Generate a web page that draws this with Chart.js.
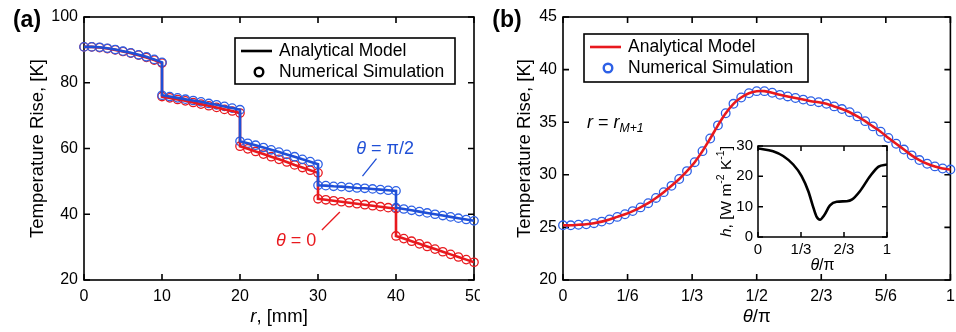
<!DOCTYPE html>
<html>
<head>
<meta charset="utf-8">
<script src="https://cdn.jsdelivr.net/npm/chart.js@4.4.1/dist/chart.umd.min.js"></script>
<style>
  html, body { margin: 0; padding: 0; background: #fff; }
  #wrap { position: relative; width: 956px; height: 332px; }
  canvas { position: absolute; }
</style>
</head>
<body>
<div id="wrap">
  <canvas id="left" width="480" height="332" style="left:0;top:0;width:480px;height:332px"></canvas>
  <canvas id="right" width="476" height="332" style="left:480px;top:0;width:476px;height:332px"></canvas>
  <canvas id="inset" width="200" height="150" style="left:700px;top:128px;width:200px;height:150px"></canvas>
</div>
<script>
// ---- (a) temperature along r, one array per 10 mm ring, sampled every 1 mm
const ringStart = [0, 10, 20, 30, 40];
const ringOffset = [0, 1, 2, 3, 4, 5, 6, 7, 8, 9, 10];
const tempHalfPi = [
  [90.9, 90.9, 90.8, 90.5, 90.1, 89.6, 89.1, 88.5, 87.9, 87.1, 86.2],
  [76.2, 75.8, 75.4, 75.0, 74.6, 74.2, 73.7, 73.3, 72.8, 72.3, 71.8],
  [62.2, 61.6, 61.0, 60.3, 59.6, 58.9, 58.2, 57.5, 56.7, 56.0, 55.2],
  [48.8, 48.7, 48.5, 48.4, 48.2, 48.0, 47.9, 47.7, 47.5, 47.3, 47.1],
  [42.0, 41.6, 41.2, 40.8, 40.4, 40.0, 39.6, 39.2, 38.8, 38.4, 38.0]
];
const tempZero = [
  [90.9, 90.9, 90.7, 90.4, 90.0, 89.5, 89.0, 88.4, 87.7, 86.9, 86.0],
  [75.8, 75.4, 74.9, 74.5, 74.0, 73.5, 73.0, 72.5, 71.9, 71.4, 70.8],
  [60.7, 59.9, 59.1, 58.3, 57.5, 56.7, 55.9, 55.0, 54.2, 53.4, 52.6],
  [44.7, 44.4, 44.1, 43.8, 43.5, 43.2, 42.9, 42.6, 42.3, 42.0, 41.7],
  [33.4, 32.6, 31.8, 31.0, 30.2, 29.4, 28.6, 27.8, 27.0, 26.2, 25.4]
];

// ---- (b) temperature along theta at r = r_M+1, 51 samples from 0 to pi
const tempEdge = [
  25.2, 25.2, 25.25, 25.3, 25.4, 25.55, 25.75, 26.0, 26.25, 26.55,
  26.9, 27.3, 27.8, 28.35, 28.95, 29.6, 30.35, 31.2, 32.25, 33.45,
  34.7, 35.85, 36.75, 37.35, 37.75, 37.95, 37.95, 37.8, 37.6, 37.45,
  37.3, 37.15, 37.0, 36.9, 36.75, 36.5, 36.25, 35.95, 35.55, 35.1,
  34.6, 34.1, 33.5, 32.95, 32.4, 31.85, 31.4, 31.05, 30.8, 30.6, 30.5
];
const thetaTickValues = [0, 1 / 6, 1 / 3, 1 / 2, 2 / 3, 5 / 6, 1];
const thetaTickLabels = ['0', '1/6', '1/3', '1/2', '2/3', '5/6', '1'];

// ---- inset: heat transfer coefficient h(theta)
const hTheta = [0, 0.117, 0.195, 0.273, 0.338, 0.39, 0.43, 0.455, 0.481, 0.512, 0.558, 0.61, 0.688, 0.727, 0.79, 0.87, 0.935, 1];
const hValue = [29.2, 28.3, 26.7, 23.9, 20.1, 15.1, 9.6, 6.6, 5.7, 7.1, 10.4, 11.6, 11.8, 12.3, 15.1, 20.1, 23.2, 23.9];
const insetTickValues = [0, 1 / 3, 2 / 3, 1];
const insetTickLabels = ['0', '1/3', '2/3', '1'];

const BLUE = '#1f4fd6';
const RED = '#e8191e';
const CIRC = '#2d60e6';
const FAM = '"Liberation Sans", Arial, Helvetica, sans-serif';

function fontOf(p, size) {
  const s = (p.sub || p.sup) ? size * 0.68 : size;
  return (p.i ? 'italic ' : '') + (p.b ? 'bold ' : '') + s + 'px ' + FAM;
}

// draws mixed italic / sub / sup text, centred on (x, y) unless align says otherwise
function drawRich(ctx, parts, x, y, size, color, align = 'center', angle = 0) {
  ctx.save();
  ctx.translate(x, y);
  ctx.rotate(angle);
  ctx.textBaseline = 'middle';
  ctx.textAlign = 'left';
  let w = 0;
  parts.forEach(p => { ctx.font = fontOf(p, size); w += ctx.measureText(p.t).width; });
  let cx = align === 'center' ? -w / 2 : (align === 'right' ? -w : 0);
  parts.forEach(p => {
    ctx.font = fontOf(p, size);
    ctx.fillStyle = p.c || color;
    const dy = p.sub ? size * 0.32 : (p.sup ? -size * 0.36 : 0);
    ctx.fillText(p.t, cx, dy);
    cx += ctx.measureText(p.t).width;
  });
  ctx.restore();
}

// box round the plot with inward ticks on all four sides
const framePlugin = {
  id: 'frame',
  beforeDatasetsDraw(chart, args, o) {
    const { ctx, chartArea: a, scales: { x, y } } = chart;
    ctx.save();
    ctx.strokeStyle = '#000';
    ctx.lineWidth = o.lw;
    ctx.beginPath();
    x.ticks.forEach(t => {
      const px = x.getPixelForValue(t.value);
      ctx.moveTo(px, a.bottom); ctx.lineTo(px, a.bottom - o.len);
      ctx.moveTo(px, a.top); ctx.lineTo(px, a.top + o.len);
    });
    y.ticks.forEach(t => {
      const py = y.getPixelForValue(t.value);
      ctx.moveTo(a.left, py); ctx.lineTo(a.left + o.len, py);
      ctx.moveTo(a.right, py); ctx.lineTo(a.right - o.len, py);
    });
    ctx.stroke();
    ctx.strokeRect(a.left, a.top, a.right - a.left, a.bottom - a.top);
    ctx.restore();
  }
};

function legendBox(ctx, x0, y0, w, h, lineColor, circColor, circWidth) {
  ctx.save();
  ctx.fillStyle = '#fff';
  ctx.fillRect(x0, y0, w, h);
  ctx.strokeStyle = '#000';
  ctx.lineWidth = 1.6;
  ctx.strokeRect(x0, y0, w, h);
  ctx.strokeStyle = lineColor;
  ctx.lineWidth = 2.6;
  ctx.beginPath();
  ctx.moveTo(x0 + 6, y0 + 13); ctx.lineTo(x0 + 37, y0 + 13);
  ctx.stroke();
  ctx.strokeStyle = circColor;
  ctx.lineWidth = circWidth;
  ctx.beginPath();
  ctx.arc(x0 + 24, y0 + 34, 4.3, 0, Math.PI * 2);
  ctx.stroke();
  ctx.restore();
  drawRich(ctx, [{ t: 'Analytical Model' }], x0 + 44, y0 + 13, 17.5, '#000', 'left');
  drawRich(ctx, [{ t: 'Numerical Simulation' }], x0 + 44, y0 + 34, 17.5, '#000', 'left');
}

function ringPoints(rings) {
  const pts = [];
  rings.forEach((vals, k) => vals.forEach((v, j) => pts.push({ x: ringStart[k] + ringOffset[j], y: v })));
  return pts;
}

function axisBase(min, max, step, padTicks, fontSize) {
  return {
    type: 'linear', min: min, max: max,
    grid: { display: false, drawTicks: false },
    border: { display: false },
    ticks: { stepSize: step, padding: padTicks, color: '#000', font: { family: FAM, size: fontSize } }
  };
}

Chart.defaults.animation = false;
Chart.defaults.events = [];

// ---------------- (a)
const leftDeco = {
  id: 'leftDeco',
  afterDraw(chart) {
    const { ctx, chartArea: a, scales: { x, y } } = chart;
    drawRich(ctx, [{ t: '(a)', b: true }], 27, 21, 23, '#000');
    drawRich(ctx, [{ t: 'Temperature Rise, [K]' }], 38, (a.top + a.bottom) / 2, 18.5, '#000', 'center', -Math.PI / 2);
    drawRich(ctx, [{ t: 'r', i: true }, { t: ', [mm]' }], (a.left + a.right) / 2, 317, 18.5, '#000');
    legendBox(ctx, 235, 38, 220, 46, '#000', '#000', 2.4);
    // curve labels with leader lines
    drawRich(ctx, [{ t: 'θ', i: true }, { t: ' = π/2' }], x.getPixelForValue(38.6), y.getPixelForValue(59.7), 18, BLUE);
    drawRich(ctx, [{ t: 'θ', i: true }, { t: ' = 0' }], x.getPixelForValue(27.2), y.getPixelForValue(31.8), 18, RED);
    ctx.save();
    ctx.lineWidth = 1.3;
    ctx.strokeStyle = BLUE;
    ctx.beginPath();
    ctx.moveTo(x.getPixelForValue(37.5), y.getPixelForValue(56.9));
    ctx.lineTo(x.getPixelForValue(35.7), y.getPixelForValue(51.6));
    ctx.stroke();
    ctx.strokeStyle = RED;
    ctx.beginPath();
    ctx.moveTo(x.getPixelForValue(32.8), y.getPixelForValue(40.7));
    ctx.lineTo(x.getPixelForValue(30.5), y.getPixelForValue(35.2));
    ctx.stroke();
    ctx.restore();
  }
};

const xLeft = axisBase(0, 50, 10, 7, 16);
xLeft.afterFit = s => { s.height = 52; s.paddingLeft = 0; s.paddingRight = 0; };
const yLeft = axisBase(20, 100, 20, 6, 16);
yLeft.afterFit = s => { s.width = 84; s.paddingTop = 0; s.paddingBottom = 0; };

new Chart(document.getElementById('left'), {
  type: 'scatter',
  data: {
    datasets: [
      { data: ringPoints(tempHalfPi), showLine: true, borderColor: BLUE, borderWidth: 2.6, pointRadius: 0, clip: false },
      { data: ringPoints(tempZero), showLine: true, borderColor: RED, borderWidth: 2.6, pointRadius: 0, clip: false },
      { data: ringPoints(tempHalfPi), showLine: false, pointRadius: 4.2, pointBorderWidth: 1.3, pointBorderColor: CIRC, pointBackgroundColor: 'rgba(0,0,0,0)', clip: false },
      { data: ringPoints(tempZero), showLine: false, pointRadius: 4.2, pointBorderWidth: 1.3, pointBorderColor: RED, pointBackgroundColor: 'rgba(0,0,0,0)', clip: false }
    ]
  },
  options: {
    responsive: false,
    layout: { padding: { left: 0, right: 6, top: 17, bottom: 0 } },
    plugins: { legend: { display: false }, tooltip: { enabled: false }, frame: { lw: 1.6, len: 6 } },
    scales: { x: xLeft, y: yLeft }
  },
  plugins: [framePlugin, leftDeco]
});

// ---------------- (b)
const rightDeco = {
  id: 'rightDeco',
  afterDraw(chart) {
    const { ctx, chartArea: a } = chart;
    drawRich(ctx, [{ t: '(b)', b: true }], 27, 21, 23, '#000');
    drawRich(ctx, [{ t: 'Temperature Rise, [K]' }], 45, (a.top + a.bottom) / 2, 18.5, '#000', 'center', -Math.PI / 2);
    drawRich(ctx, [{ t: 'θ', i: true }, { t: '/π' }], (a.left + a.right) / 2, 317, 18.5, '#000');
    legendBox(ctx, 104, 34, 224, 48, RED, CIRC, 2.4);
    drawRich(ctx, [{ t: 'r', i: true }, { t: ' = ' }, { t: 'r', i: true }, { t: 'M+1', i: true, sub: true }], 107, 123, 18, '#000', 'left');
  }
};

const xRight = axisBase(0, 1, 1 / 6, 7, 16);
xRight.afterBuildTicks = s => { s.ticks = thetaTickValues.map(v => ({ value: v })); };
xRight.ticks.callback = (v, i) => thetaTickLabels[i];
xRight.afterFit = s => { s.height = 52; s.paddingLeft = 0; s.paddingRight = 0; };
const yRight = axisBase(20, 45, 5, 6, 16);
yRight.afterFit = s => { s.width = 83; s.paddingTop = 0; s.paddingBottom = 0; };

new Chart(document.getElementById('right'), {
  type: 'scatter',
  data: {
    datasets: [
      { data: tempEdge.map((v, i) => ({ x: i / 50, y: v })), showLine: true, borderColor: RED, borderWidth: 2.6, pointRadius: 0, tension: 0.3, clip: false },
      { data: tempEdge.map((v, i) => ({ x: i / 50, y: v })), showLine: false, pointRadius: 4.3, pointBorderWidth: 1.3, pointBorderColor: CIRC, pointBackgroundColor: 'rgba(0,0,0,0)', clip: false }
    ]
  },
  options: {
    responsive: false,
    layout: { padding: { left: 0, right: 3, top: 17, bottom: 0 } },
    plugins: { legend: { display: false }, tooltip: { enabled: false }, frame: { lw: 1.6, len: 6 } },
    scales: { x: xRight, y: yRight }
  },
  plugins: [framePlugin, rightDeco]
});

// ---------------- inset
const insetDeco = {
  id: 'insetDeco',
  afterDraw(chart) {
    const { ctx, chartArea: a } = chart;
    drawRich(ctx, [{ t: 'θ', i: true }, { t: '/π' }], (a.left + a.right) / 2, 138, 16, '#000');
    drawRich(ctx, [{ t: 'h', i: true }, { t: ', [W m' }, { t: '-2', sup: true }, { t: ' K' }, { t: '-1', sup: true }, { t: ']' }],
      27, (a.top + a.bottom) / 2, 15.5, '#000', 'center', -Math.PI / 2);
  }
};

const xInset = axisBase(0, 1, 1 / 3, 4, 15);
xInset.afterBuildTicks = s => { s.ticks = insetTickValues.map(v => ({ value: v })); };
xInset.ticks.callback = (v, i) => insetTickLabels[i];
xInset.afterFit = s => { s.height = 41; s.paddingLeft = 0; s.paddingRight = 0; };
const yInset = axisBase(0, 30, 10, 5, 15);
yInset.afterFit = s => { s.width = 58; s.paddingTop = 0; s.paddingBottom = 0; };

new Chart(document.getElementById('inset'), {
  type: 'scatter',
  data: {
    datasets: [
      { data: hTheta.map((t, i) => ({ x: t, y: hValue[i] })), showLine: true, borderColor: '#000', borderWidth: 2.6, pointRadius: 0, cubicInterpolationMode: 'monotone' }
    ]
  },
  options: {
    responsive: false,
    layout: { padding: { left: 0, right: 13, top: 18, bottom: 0 } },
    plugins: { legend: { display: false }, tooltip: { enabled: false }, frame: { lw: 1.5, len: 5 } },
    scales: { x: xInset, y: yInset }
  },
  plugins: [framePlugin, insetDeco]
});
</script>
</body>
</html>
